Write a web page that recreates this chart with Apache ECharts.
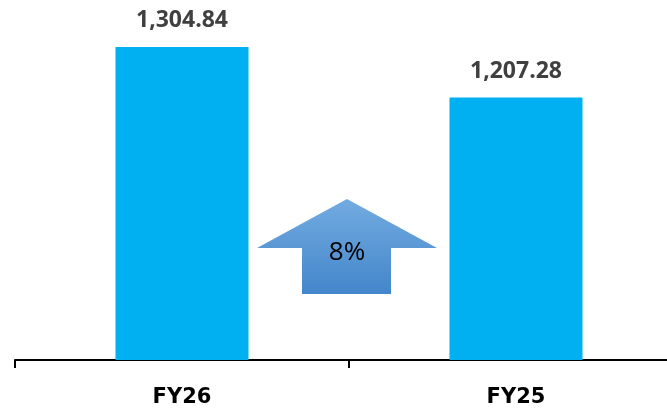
<!DOCTYPE html>
<html>
<head>
<meta charset="utf-8">
<script src="https://cdn.jsdelivr.net/npm/echarts@6/dist/echarts.min.js"></script>
<style>
html,body{margin:0;padding:0;background:#ffffff;}
#chart{width:667px;height:414px;}
</style>
</head>
<body>
<div id="chart"></div>
<script>
const categories = ['FY26', 'FY25'];
const values = [1304.84, 1207.28];
const changeLabel = '8%';

const chart = echarts.init(document.getElementById('chart'), null, {renderer: 'canvas'});
const fmt = v => v.toLocaleString('en-US', {minimumFractionDigits: 2, maximumFractionDigits: 2});

chart.setOption({
  backgroundColor: '#ffffff',
  animation: false,
  grid: {left: 15, right: -16, top: 47, bottom: 54, containLabel: false, outerBoundsMode: 'none'},
  xAxis: {
    type: 'category',
    data: categories,
    axisLine: {show: true, lineStyle: {color: '#000000', width: 2}},
    axisTick: {show: true, length: 8, lineStyle: {color: '#000000', width: 2}},
    axisLabel: {
      margin: 27,
      color: '#000000',
      fontFamily: 'DejaVu Sans',
      fontWeight: 'bold',
      fontSize: 21
    }
  },
  yAxis: {
    type: 'value',
    min: 700,
    max: 1304.84,
    show: false,
    splitLine: {show: false}
  },
  series: [{
    type: 'bar',
    data: values,
    barWidth: 133,
    itemStyle: {color: '#00B0F0'},
    label: {
      show: true,
      position: 'top',
      distance: 15,
      color: '#404040',
      fontFamily: 'Open Sans',
      fontWeight: 'bold',
      fontSize: 23,
      formatter: p => fmt(p.value)
    }
  }],
  graphic: [{
    type: 'polygon',
    shape: {
      points: [[347, 199], [437, 248], [391, 248], [391, 294], [302, 294], [302, 248], [257, 248]]
    },
    style: {
      fill: new echarts.graphic.LinearGradient(0, 0, 0, 1, [
        {offset: 0, color: '#72ABE0'},
        {offset: 1, color: '#4486CB'}
      ])
    },
    z: 10
  }, {
    type: 'text',
    x: 347,
    y: 253,
    style: {
      text: changeLabel,
      fill: '#000000',
      font: '26px "Open Sans"',
      align: 'center',
      verticalAlign: 'middle'
    },
    z: 11
  }]
});
</script>
</body>
</html>
